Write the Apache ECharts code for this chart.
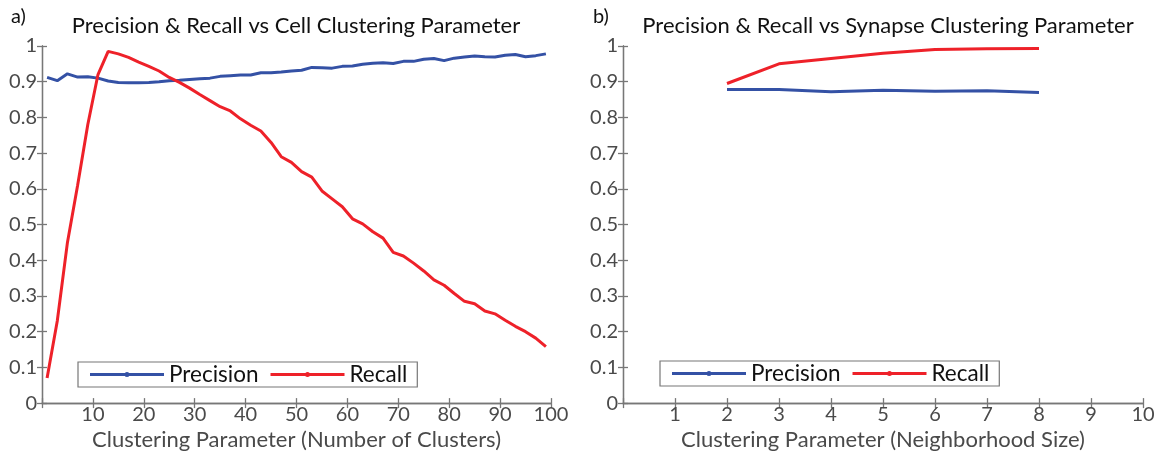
<!DOCTYPE html>
<html>
<head>
<meta charset="utf-8">
<script src="https://cdn.jsdelivr.net/npm/echarts@6/dist/echarts.min.js"></script>
<style>
  html, body { margin: 0; padding: 0; background: #fff; }
  #chart { width: 1165px; height: 456px; }
</style>
</head>
<body>
<div id="chart"></div>
<script>
// Panel a: cell clustering sweep (number of clusters)
const cellClusters = [1,3,5,7,9,11,13,15,17,19,21,23,25,27,29,31,33,35,37,39,41,43,45,47,49,
  51,53,55,57,59,61,63,65,67,69,71,73,75,77,79,81,83,85,87,89,91,93,95,97,99];
const cellPrecision = [0.912,0.903,0.922,0.913,0.914,0.910,0.902,0.898,0.897,0.897,0.898,0.900,0.903,0.904,0.906,
  0.908,0.910,0.915,0.917,0.919,0.919,0.925,0.925,0.927,0.930,0.932,0.940,0.939,0.938,0.943,0.944,0.949,
  0.952,0.953,0.951,0.957,0.957,0.963,0.965,0.959,0.966,0.969,0.972,0.970,0.969,0.974,0.976,0.970,0.973,0.978];
const cellRecall = [0.070,0.230,0.450,0.610,0.780,0.920,0.985,0.978,0.968,0.955,0.943,0.930,0.912,0.898,0.882,
  0.864,0.847,0.830,0.818,0.796,0.778,0.762,0.730,0.690,0.674,0.648,0.633,0.594,0.572,0.550,0.516,0.502,
  0.480,0.462,0.422,0.412,0.392,0.370,0.345,0.330,0.307,0.285,0.278,0.258,0.250,0.232,0.215,0.200,0.182,0.158];

// Panel b: synapse clustering sweep (neighborhood size)
const synNeighborhood = [2,3,4,5,6,7,8];
const synPrecision = [0.878,0.878,0.872,0.876,0.873,0.875,0.870];
const synRecall = [0.895,0.950,0.965,0.980,0.990,0.992,0.993];

const panelTitles = ['Precision & Recall vs Cell Clustering Parameter', 'Precision & Recall vs Synapse Clustering Parameter'];
const panelTags = ['a)', 'b)'];
const xNames = ['Clustering Parameter (Number of Clusters)', 'Clustering Parameter (Neighborhood Size)'];
const seriesNames = ['Precision', 'Recall'];

const FONT = 'Lato';
const AXIS = '#777';
const LABEL = '#4a4a4a';
const BLUE = '#3451a5';
const RED = '#ee2129';

const grids = [
  { left: 42, top: 46, width: 509, height: 363 },
  { left: 623, top: 46, width: 520, height: 363 }
];

function pairs(xs, ys) { return xs.map((x, i) => [x, ys[i]]); }

const lineAxis = { lineStyle: { color: AXIS, width: 1.3 } };
const inTick = { show: true, inside: true, length: 5, lineStyle: { color: AXIS, width: 1.3 } };

const xAxes = [], yAxes = [];
[[0, 100, 10], [0, 10, 1]].forEach(([mn, mx, step], g) => {
  xAxes.push({
    type: 'value', gridIndex: g, min: mn, max: mx, interval: step, position: 'bottom',
    axisLine: lineAxis, axisTick: inTick, splitLine: { show: false },
    axisLabel: { color: LABEL, fontFamily: FONT, fontSize: 20, margin: 1,
      formatter: v => (v === 0 ? '' : String(v)) },
    name: xNames[g], nameLocation: 'middle', nameGap: 24,
    nameTextStyle: { color: LABEL, fontFamily: FONT, fontSize: 22 }
  });
  xAxes.push({
    type: 'value', gridIndex: g, min: mn, max: mx, interval: step, position: 'top',
    axisLine: lineAxis, axisTick: inTick, splitLine: { show: false }, axisLabel: { show: false }
  });
  yAxes.push({
    type: 'value', gridIndex: g, min: 0, max: 1, interval: 0.1, position: 'left',
    axisLine: lineAxis, axisTick: inTick, splitLine: { show: false },
    axisLabel: { color: LABEL, fontFamily: FONT, fontSize: 20, margin: 5,
      formatter: v => String(+v.toFixed(1)) }
  });
  yAxes.push({
    type: 'value', gridIndex: g, min: 0, max: 1, interval: 0.1, position: 'right',
    axisLine: lineAxis, axisTick: inTick, splitLine: { show: false }, axisLabel: { show: false }
  });
});

function lineSeries(name, color, data, g) {
  return {
    type: 'line', name: name, xAxisIndex: g * 2, yAxisIndex: g * 2,
    data: data, symbol: 'none',
    lineStyle: { color: color, width: 3 }, itemStyle: { color: color },
    emphasis: { disabled: true }, animation: false
  };
}

const series = [
  lineSeries(seriesNames[0], BLUE, pairs(cellClusters, cellPrecision), 0),
  lineSeries(seriesNames[1], RED, pairs(cellClusters, cellRecall), 0),
  lineSeries(seriesNames[0], BLUE, pairs(synNeighborhood, synPrecision), 1),
  lineSeries(seriesNames[1], RED, pairs(synNeighborhood, synRecall), 1)
];

// legend key: thick line with a small round marker in its middle
const keyIcon = 'path://M0,4H74V7H0Z M34.5,5.5a2.5,2.5 0 1,1 5,0a2.5,2.5 0 1,1 -5,0Z';

const legendBase = {
  data: seriesNames.map(n => ({ name: n, icon: keyIcon })),
  orient: 'horizontal', itemWidth: 74, itemHeight: 11, itemGap: 12,
  borderColor: '#777', borderWidth: 1.2, borderRadius: 0, padding: [1, 10, 1, 12],
  textStyle: { color: '#111', fontFamily: FONT, fontSize: 22.5, padding: [0, 0, 0, 0] },
  selectedMode: false
};

const tagStyle = { fontFamily: FONT, fontSize: 20, fontWeight: 'normal', color: '#111' };
const titleStyle = { fontFamily: FONT, fontSize: 22, fontWeight: 'normal', color: '#111' };

const option = {
  backgroundColor: '#fff',
  animation: false,
  title: [
    { text: panelTags[0], left: 6, top: 2, textStyle: tagStyle },
    { text: panelTitles[0], left: 291, top: 10, textAlign: 'center', textStyle: titleStyle },
    { text: panelTags[1], left: 588, top: 2, textStyle: tagStyle },
    { text: panelTitles[1], left: 883, top: 10, textAlign: 'center', textStyle: titleStyle }
  ],
  legend: [
    Object.assign({}, legendBase, { left: 78, top: 362 }),
    Object.assign({}, legendBase, { left: 660, top: 361 })
  ],
  grid: grids,
  xAxis: xAxes,
  yAxis: yAxes,
  series: series
};

const chart = echarts.init(document.getElementById('chart'), null, { renderer: 'canvas' });
chart.setOption(option);
</script>
</body>
</html>
